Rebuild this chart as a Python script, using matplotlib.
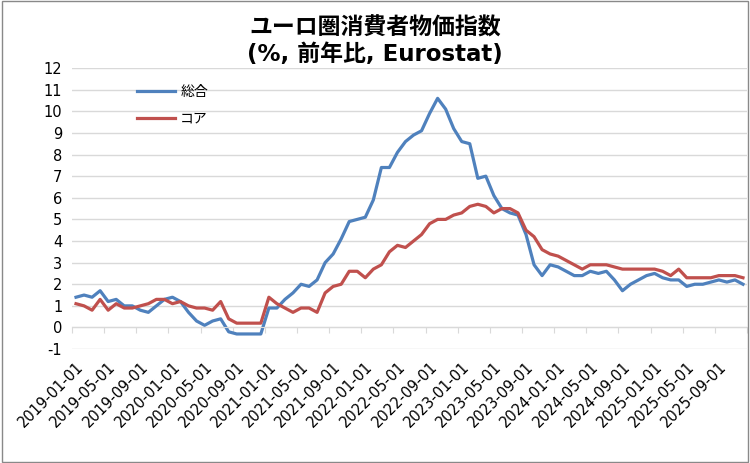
import pandas as pd
import numpy as np
import matplotlib
matplotlib.use("Agg")
import matplotlib.pyplot as plt
from matplotlib.patches import Rectangle

plt.rcParams['font.family'] = ['Noto Sans CJK JP', 'DejaVu Sans']
plt.rcParams['axes.unicode_minus'] = False

# monthly, 2019-01 .. 2025-12
months = pd.date_range('2019-01-01', periods=84, freq='MS')

headline = [1.4, 1.5, 1.4, 1.7, 1.2, 1.3, 1.0, 1.0, 0.8, 0.7, 1.0, 1.3,
            1.4, 1.2, 0.7, 0.3, 0.1, 0.3, 0.4, -0.2, -0.3, -0.3, -0.3, -0.3,
            0.9, 0.9, 1.3, 1.6, 2.0, 1.9, 2.2, 3.0, 3.4, 4.1, 4.9, 5.0,
            5.1, 5.9, 7.4, 7.4, 8.1, 8.6, 8.9, 9.1, 9.9, 10.6, 10.1, 9.2,
            8.6, 8.5, 6.9, 7.0, 6.1, 5.5, 5.3, 5.2, 4.3, 2.9, 2.4, 2.9,
            2.8, 2.6, 2.4, 2.4, 2.6, 2.5, 2.6, 2.2, 1.7, 2.0, 2.2, 2.4,
            2.5, 2.3, 2.2, 2.2, 1.9, 2.0, 2.0, 2.1, 2.2, 2.1, 2.2, 2.0]

core = [1.1, 1.0, 0.8, 1.3, 0.8, 1.1, 0.9, 0.9, 1.0, 1.1, 1.3, 1.3,
        1.1, 1.2, 1.0, 0.9, 0.9, 0.8, 1.2, 0.4, 0.2, 0.2, 0.2, 0.2,
        1.4, 1.1, 0.9, 0.7, 0.9, 0.9, 0.7, 1.6, 1.9, 2.0, 2.6, 2.6,
        2.3, 2.7, 2.9, 3.5, 3.8, 3.7, 4.0, 4.3, 4.8, 5.0, 5.0, 5.2,
        5.3, 5.6, 5.7, 5.6, 5.3, 5.5, 5.5, 5.3, 4.5, 4.2, 3.6, 3.4,
        3.3, 3.1, 2.9, 2.7, 2.9, 2.9, 2.9, 2.8, 2.7, 2.7, 2.7, 2.7,
        2.7, 2.6, 2.4, 2.7, 2.3, 2.3, 2.3, 2.3, 2.4, 2.4, 2.4, 2.3]

series_names = ['総合', 'コア']
title = 'ユーロ圏消費者物価指数\n(%, 前年比, Eurostat)'


def main():
	fig = plt.figure(figsize=(7.5, 4.63), dpi=100)
	ax = fig.add_axes([0.096, 0.246, 0.9, 0.607])

	x = np.arange(len(months))
	ax.plot(x, headline, color='#4f81bd', linewidth=2.3, label=series_names[0], solid_joinstyle='round')
	ax.plot(x, core, color='#c0504d', linewidth=2.3, label=series_names[1], solid_joinstyle='round')

	ax.set_xlim(-0.5, len(months) - 0.5)
	ax.set_ylim(-1, 12)
	ax.set_yticks(range(-1, 13))
	ax.grid(axis='y', color='#d9d9d9', linewidth=1)
	ax.set_axisbelow(True)
	ax.tick_params(axis='y', length=0, pad=7, labelsize=10.5)
	for lab in ax.get_yticklabels():
		lab.set_family('DejaVu Sans')

	for s in ['left', 'right', 'top']:
		ax.spines[s].set_visible(False)
	# category axis crosses at 0
	ax.spines['bottom'].set_position(('data', 0))
	ax.spines['bottom'].set_color('#d9d9d9')
	ax.set_xticks(np.arange(-0.5, len(months), 4))
	ax.set_xticklabels([])
	ax.tick_params(axis='x', length=4.5, color='#d9d9d9', direction='out')

	# date labels at the bottom of the plot
	sec = ax.secondary_xaxis(0.0)
	sec.set_xticks(x[::4])
	sec.set_xticklabels([d.strftime('%Y-%m-%d') for d in months[::4]],
						rotation=45, ha='right', rotation_mode='anchor', fontsize=10.5,
						family='DejaVu Sans')
	sec.tick_params(length=0, pad=7)
	sec.spines['bottom'].set_visible(False)

	ax.legend(loc='upper left', bbox_to_anchor=(0.078, 0.985), frameon=False,
			  fontsize=10, handlelength=2.7, handletextpad=0.4, labelspacing=0.95)

	fig.text(0.5, 0.911, title, ha='center', va='center', fontsize=16.5,
			 fontweight='bold', linespacing=1.2, family=['DejaVu Sans', 'Noto Sans CJK JP'])

	fig.patches.append(Rectangle((0.002, 0.003), 0.995, 0.994, transform=fig.transFigure,
								 fill=False, edgecolor='#898989', linewidth=1))

	fig.savefig('out.png', dpi=100)


if __name__ == "__main__":
	main()
